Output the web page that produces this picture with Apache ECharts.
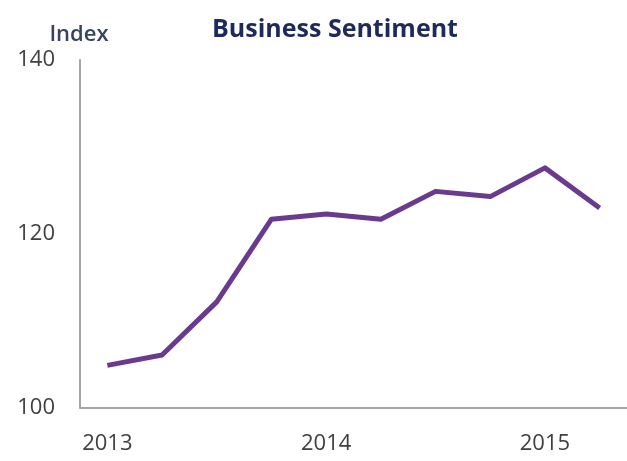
<!DOCTYPE html>
<html>
<head>
<meta charset="utf-8">
<script src="https://cdn.jsdelivr.net/npm/echarts@6/dist/echarts.min.js"></script>
<style>html,body{margin:0;padding:0;background:#fff;}#c{width:627px;height:461px;}</style>
</head>
<body>
<div id="c"></div>
<script>
var categories = ['2013 Q1','2013 Q2','2013 Q3','2013 Q4','2014 Q1','2014 Q2','2014 Q3','2014 Q4','2015 Q1','2015 Q2'];
var sentiment = [104.9, 106.1, 112.2, 121.7, 122.3, 121.7, 124.9, 124.3, 127.6, 123.0];
var yTicks = [100, 120, 140];

var chart = echarts.init(document.getElementById('c'));
var FONT = '"Open Sans", "DejaVu Sans", sans-serif';
chart.setOption({
  animation: false,
  title: [
    { text: 'Business Sentiment', left: 330, top: 25, textAlign: 'center', textVerticalAlign: 'middle',
      textStyle: { fontFamily: FONT, fontSize: 25, fontWeight: 'bold', color: '#1f2a5c' } },
    { text: 'Index', left: 74, top: 30, textAlign: 'center', textVerticalAlign: 'middle',
      textStyle: { fontFamily: FONT, fontSize: 22, fontWeight: 600, color: '#384360' } }
  ],
  grid: { left: 80, top: 60, width: 562, height: 348, containLabel: false },
  xAxis: {
    type: 'category', data: categories, boundaryGap: true,
    axisLine: { lineStyle: { color: '#a6a6a6', width: 2 } },
    axisTick: { show: false },
    axisLabel: {
      interval: function (i) { return i % 4 === 0; },
      formatter: function (v) { return v.split(' ')[0]; },
      margin: 25, fontFamily: FONT, fontSize: 22, color: '#404040'
    },
    splitLine: { show: false }
  },
  yAxis: {
    type: 'value', min: yTicks[0], max: yTicks[yTicks.length - 1], interval: 20,
    axisLine: { show: true, lineStyle: { color: '#a6a6a6', width: 2 } },
    axisTick: { show: false },
    axisLabel: { margin: 25, fontFamily: FONT, fontSize: 22, color: '#404040' },
    splitLine: { show: false }
  },
  series: [{
    type: 'line', data: sentiment, symbol: 'none',
    lineStyle: { color: '#6a3a8e', width: 5, join: 'round' }
  }]
});
</script>
</body>
</html>
